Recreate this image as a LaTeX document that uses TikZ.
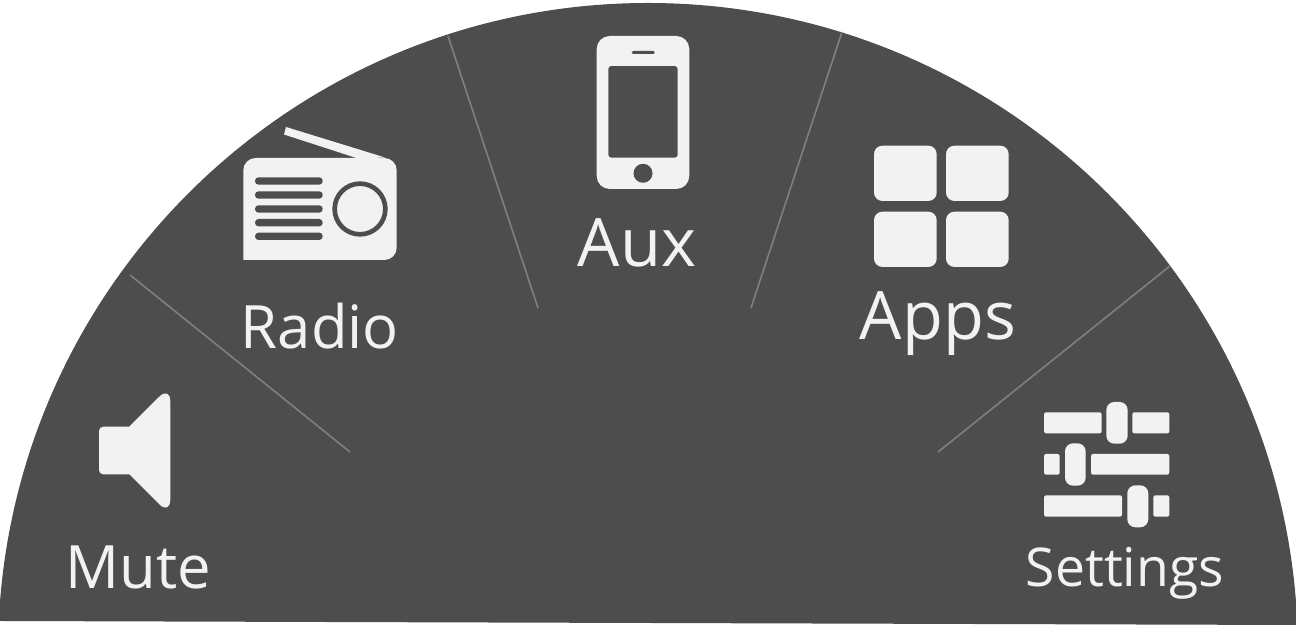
\documentclass[tikz,border=0pt]{standalone}
\usepackage{fontspec}
\setmainfont{Open Sans}
\begin{document}
\begin{tikzpicture}[
  x=0.01cm, y=-0.01cm,
  icon/.style={fill=iconcol},
  hole/.style={fill=panelcol},
  divider/.style={draw=linecol, line width=0.45pt},
  biglabel/.style={anchor=base, text=iconcol, inner sep=0pt, font=\fontsize{19}{22}\selectfont},
  midlabel/.style={anchor=base, text=iconcol, inner sep=0pt, font=\fontsize{17}{20}\selectfont},
  smalllabel/.style={anchor=base, text=iconcol, inner sep=0pt, font=\fontsize{15.2}{18}\selectfont}
    ]
\definecolor{panelcol}{HTML}{4D4D4D}
\definecolor{iconcol}{HTML}{F2F2F2}
\definecolor{linecol}{HTML}{808080}
\useasboundingbox (0,0) rectangle (1296,628);

% panel
\begin{scope}
\clip (0,0) -- (1296,0) -- (1296,625) -- (0,621) -- cycle;
\fill[panelcol] (648,653) circle [radius=650];
\end{scope}

% dividers
\coordinate (d1a) at (130,275);
\coordinate (d1b) at (350,452);
\coordinate (d2a) at (448,36);
\coordinate (d2b) at (538,308);
\coordinate (d3a) at (842,32);
\coordinate (d3b) at (751,308);
\coordinate (d4a) at (1170,266);
\coordinate (d4b) at (938,452);
\path[divider] (d1a) edge (d1b)
(d2a) edge (d2b)
(d3a) edge (d3b)
(d4a) edge (d4b);

% mute
\fill[icon] (99,450) [rounded corners=1.2pt] -- (99,426.7) [sharp corners] -- (129.3,426.7) [rounded corners=4.5pt] -- (170.3,385.7) -- (170.3,515.3) [sharp corners] -- (129.3,474.3) [rounded corners=1.2pt] -- (99,474.3) -- cycle;
\node[midlabel] (mute) at (138,589) {Mute};

% radio
\fill[icon] (284,134.5) -- (286,127) -- (385,157.5) -- (358,158.5) -- cycle;
\fill[icon] (243.3,260) [rounded corners=3.5pt] -- (243.3,158) -- (396.7,158) -- (396.7,260) [sharp corners] -- cycle;
\foreach \y in {181,195,209,222.7,236.3}
  \fill[hole, rounded corners=1pt] (255,\y-3.7) rectangle (322.7,\y+3.7);
\fill[hole, even odd rule] (360,209) circle [radius=27.7] (360,209) circle [radius=23];
\node[midlabel] (radio) at (320,349) {Radio};

% aux
\fill[icon, even odd rule, rounded corners=3.7pt] (596.7,36) rectangle (689.3,189)
  [rounded corners=0.8pt] (608.3,66) rectangle (677.7,157.7);
\fill[hole] (643,173.3) circle [radius=9.5];
\fill[hole, rounded corners=0.4pt] (631.7,51) rectangle (654.7,54);
\node[biglabel] (aux) at (637,267) {Aux};

% apps
\foreach \x/\y in {874/145.7,946/145.7,874/211.7,946/211.7}
  \fill[icon, rounded corners=2.4pt] (\x,\y) rectangle +(62.7,55.3);
\node[biglabel] (apps) at (938,339.5) {Apps};

% settings
\fill[icon, rounded corners=0.6pt] (1044,412.3) rectangle (1101.7,433.3);
\fill[icon, rounded corners=0.6pt] (1132.3,412.3) rectangle (1169.3,433.3);
\fill[icon, rounded corners=2.3pt] (1106.3,402) rectangle (1127.7,443.7);
\fill[icon, rounded corners=0.6pt] (1044,454) rectangle (1059.7,474.7);
\fill[icon, rounded corners=0.6pt] (1091,454) rectangle (1169.3,474.7);
\fill[icon, rounded corners=2.3pt] (1065,443.3) rectangle (1085.7,485.7);
\fill[icon, rounded corners=0.6pt] (1044,495.3) rectangle (1122,516.7);
\fill[icon, rounded corners=0.6pt] (1153.3,495.3) rectangle (1169.3,516.7);
\fill[icon, rounded corners=2.3pt] (1127.3,485.3) rectangle (1148.3,527.3);
\node[smalllabel] (settings) at (1125,587) {Settings};

\end{tikzpicture}
\end{document}
